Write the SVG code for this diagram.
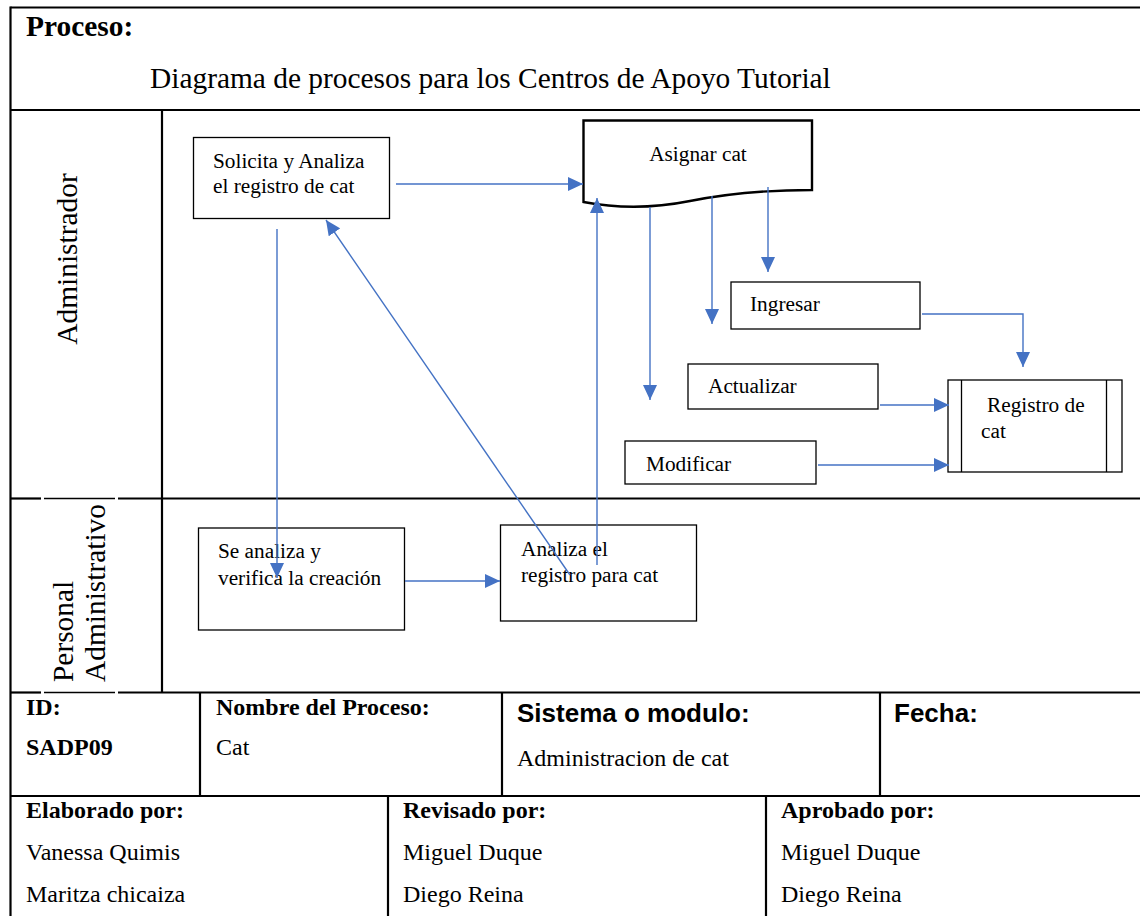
<svg xmlns="http://www.w3.org/2000/svg" width="1140" height="916" viewBox="0 0 1140 916">
<defs>
<marker id="ah" markerWidth="15" markerHeight="14" refX="15" refY="7" orient="auto" markerUnits="userSpaceOnUse">
<path d="M0,0 L15,7 L0,14 Z" fill="#4472C4"/>
</marker>
<style>
.frame{stroke:#000;stroke-width:2.2;fill:none}
.box{fill:#fff;stroke:#000;stroke-width:1.3}
.doc{fill:#fff;stroke:#000;stroke-width:2.4}
.t{font-family:"Liberation Serif","Times New Roman",serif;font-size:21.3px;fill:#000}
.tb{font-family:"Liberation Serif","Times New Roman",serif;font-size:24px;font-weight:bold;fill:#000}
.tn{font-family:"Liberation Serif","Times New Roman",serif;font-size:24px;fill:#000}
.ts{font-family:"Liberation Sans",Arial,sans-serif;font-size:26px;font-weight:bold;fill:#000}
.lane{font-family:"Liberation Serif","Times New Roman",serif;font-size:29.4px;fill:#000}
.c{stroke:#4472C4;stroke-width:1.4;fill:none}
</style>
</defs>
<rect width="1140" height="916" fill="#fff"/>

<g id="frame">
<line class="frame" x1="10.5" y1="7.5" x2="1140" y2="7.5"/>
<line class="frame" x1="10.5" y1="6.5" x2="10.5" y2="916"/>
<line class="frame" x1="10.5" y1="110" x2="1140" y2="110"/>
<line class="frame" x1="162" y1="110" x2="162" y2="692"/>
<line class="frame" x1="10.5" y1="498.5" x2="41" y2="498.5"/>
<line stroke="#000" stroke-width="1.3" x1="44" y1="498.5" x2="115" y2="498.5"/>
<line class="frame" x1="118" y1="498.5" x2="1140" y2="498.5"/>
<line class="frame" x1="10.5" y1="692.5" x2="41" y2="692.5"/>
<line stroke="#000" stroke-width="1.3" x1="44" y1="692.5" x2="115" y2="692.5"/>
<line class="frame" x1="118" y1="692.5" x2="1140" y2="692.5"/>
<line class="frame" x1="10.5" y1="796" x2="1140" y2="796"/>
<line class="frame" x1="200" y1="692" x2="200" y2="796"/>
<line class="frame" x1="502" y1="692" x2="502" y2="796"/>
<line class="frame" x1="880" y1="692" x2="880" y2="796"/>
<line class="frame" x1="388" y1="796" x2="388" y2="916"/>
<line class="frame" x1="766" y1="796" x2="766" y2="916"/>
</g>

<g id="header">
<text class="lane" x="26" y="36" font-weight="bold">Proceso:</text>
<text class="lane" x="150" y="88">Diagrama de procesos para los Centros de Apoyo Tutorial</text>
</g>

<g id="lane-admin">
<text class="lane" transform="translate(77,259) rotate(-90)" text-anchor="middle">Administrador</text>
</g>
<g id="lane-personal">
<text class="lane" transform="translate(73,682) rotate(-90)" font-size="28">Personal</text>
<text class="lane" transform="translate(105,682) rotate(-90)" font-size="28">Administrativo</text>
</g>

<g id="n-solicita">
<rect class="box" x="193.5" y="137.5" width="196" height="81"/>
<text class="t" x="213" y="168">Solicita y Analiza</text>
<text class="t" x="213" y="193">el registro de cat</text>
</g>
<g id="n-asignar">
<path class="doc" d="M583.5,120.5 H812 V190 C770,190 730,193 690,201 C650,209 615,208 583.5,202 Z"/>
<text class="t" x="698" y="161" text-anchor="middle">Asignar cat</text>
</g>
<g id="n-ingresar">
<rect class="box" x="731" y="282" width="189" height="47"/>
<text class="t" x="750" y="311">Ingresar</text>
</g>
<g id="n-actualizar">
<rect class="box" x="688" y="364" width="190" height="45"/>
<text class="t" x="708" y="393">Actualizar</text>
</g>
<g id="n-modificar">
<rect class="box" x="625" y="441" width="191" height="43"/>
<text class="t" x="646" y="471">Modificar</text>
</g>
<g id="n-registro">
<rect class="box" x="948" y="380" width="174" height="92"/>
<line stroke="#000" stroke-width="1.3" x1="961.5" y1="380" x2="961.5" y2="472"/>
<line stroke="#000" stroke-width="1.3" x1="1106.5" y1="380" x2="1106.5" y2="472"/>
<text class="t" x="987" y="412">Registro de</text>
<text class="t" x="981" y="438">cat</text>
</g>
<g id="n-seanaliza">
<rect class="box" x="198.5" y="528" width="206" height="102"/>
<text class="t" x="218" y="558">Se analiza y</text>
<text class="t" x="218" y="585">verifica la creación</text>
</g>
<g id="n-analiza">
<rect class="box" x="500.5" y="525" width="196" height="96"/>
<text class="t" x="521" y="556">Analiza el</text>
<text class="t" x="521" y="582">registro para cat</text>
</g>

<g id="connectors">
<line class="c" x1="396" y1="184" x2="583" y2="184" marker-end="url(#ah)"/>
<line class="c" x1="277" y1="229" x2="277" y2="578" marker-end="url(#ah)"/>
<line class="c" x1="570" y1="575" x2="326" y2="220" marker-end="url(#ah)"/>
<line class="c" x1="597" y1="565" x2="597" y2="198" marker-end="url(#ah)"/>
<line class="c" x1="405" y1="581" x2="500" y2="581" marker-end="url(#ah)"/>
<line class="c" x1="650" y1="207" x2="650" y2="400" marker-end="url(#ah)"/>
<line class="c" x1="712" y1="196" x2="712" y2="324" marker-end="url(#ah)"/>
<line class="c" x1="768" y1="187" x2="768" y2="272" marker-end="url(#ah)"/>
<polyline class="c" points="922,314 1023,314 1023,367" marker-end="url(#ah)"/>
<line class="c" x1="880" y1="405" x2="949" y2="405" marker-end="url(#ah)"/>
<line class="c" x1="818" y1="465" x2="949" y2="465" marker-end="url(#ah)"/>
</g>

<g id="table">
<text class="tb" x="26" y="715">ID:</text>
<text class="tb" x="26" y="755">SADP09</text>
<text class="tb" x="216" y="715">Nombre del Proceso:</text>
<text class="tn" x="216" y="755">Cat</text>
<text class="ts" x="517" y="722">Sistema o modulo:</text>
<text class="tn" x="517" y="766">Administracion de cat</text>
<text class="ts" x="894" y="722">Fecha:</text>
<text class="tb" x="26" y="818">Elaborado por:</text>
<text class="tn" x="26" y="860">Vanessa Quimis</text>
<text class="tn" x="26" y="902">Maritza chicaiza</text>
<text class="tb" x="403" y="818">Revisado por:</text>
<text class="tn" x="403" y="860">Miguel Duque</text>
<text class="tn" x="403" y="902">Diego Reina</text>
<text class="tb" x="781" y="818">Aprobado por:</text>
<text class="tn" x="781" y="860">Miguel Duque</text>
<text class="tn" x="781" y="902">Diego Reina</text>
</g>
</svg>
